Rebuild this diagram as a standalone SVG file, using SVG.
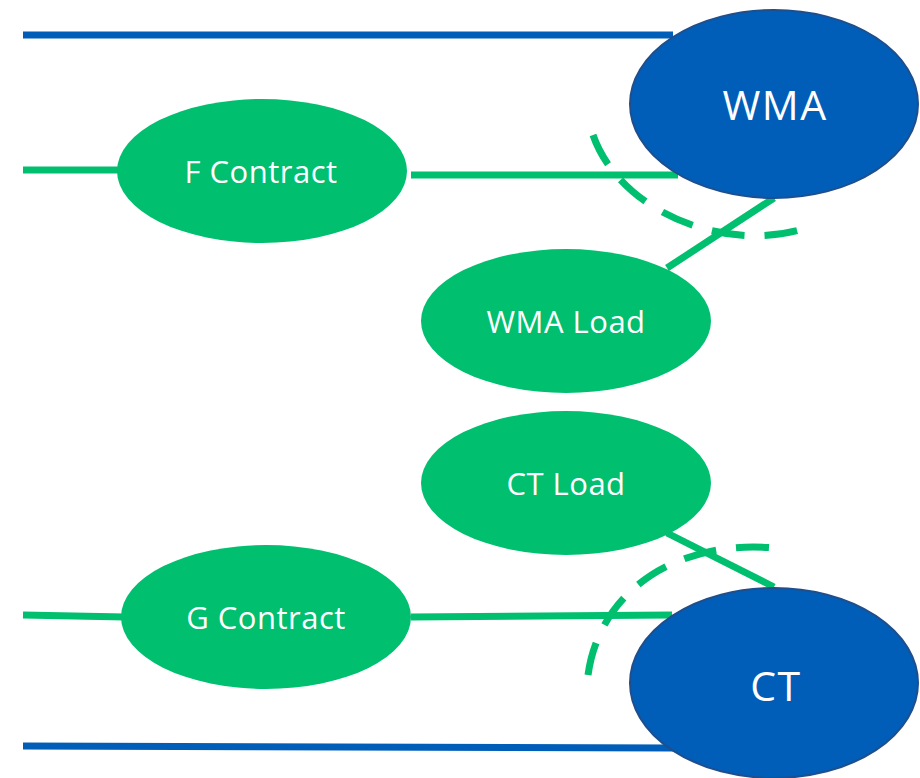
<svg xmlns="http://www.w3.org/2000/svg" width="920" height="778" viewBox="0 0 920 778">
<style>
.g{fill:#00BF6F}
.b{fill:#005EB8;stroke:#1F4E8C;stroke-width:2}
.ln{stroke:#00BF6F;stroke-width:7;fill:none}
.bl{stroke:#005EB8;stroke-width:7;fill:none}
.ds{stroke:#00BF6F;stroke-width:7;fill:none;stroke-dasharray:33 20}
text{fill:#fff;font-family:"Open Sans","Noto Sans",sans-serif;font-weight:400;text-anchor:middle;dominant-baseline:central}
.t1{font-size:31px;letter-spacing:0.5px}
.t2{font-size:41px;letter-spacing:1.5px}
</style>
<rect width="920" height="778" fill="#fff"/>
<g id="connectors">
<line class="bl" x1="23" y1="35" x2="673" y2="35"/>
<line class="bl" x1="23" y1="746" x2="673" y2="748"/>
<line class="ln" x1="23" y1="170" x2="120" y2="170"/>
<line class="ln" x1="411" y1="175" x2="678" y2="175"/>
<line class="ln" x1="667" y1="268" x2="774" y2="198"/>
<line class="ln" x1="667" y1="533" x2="774" y2="587"/>
<line class="ln" x1="23" y1="615" x2="125" y2="617"/>
<line class="ln" x1="411" y1="617" x2="672" y2="615"/>
<path class="ds" d="M593,135 C620,212 725,254 806,228"/>
<path class="ds" d="M588,675 C600,588 682,536 784,549"/>
</g>
<g id="wma"><ellipse class="b" cx="774" cy="104" rx="144" ry="94"/><text class="t2" x="775" y="104">WMA</text></g>
<g id="ct"><ellipse class="b" cx="774" cy="683" rx="144" ry="95"/><text class="t2" x="776" y="685">CT</text></g>
<g id="fcontract"><ellipse class="g" cx="262" cy="171" rx="145" ry="72"/><text class="t1" x="261" y="171">F Contract</text></g>
<g id="wmaload"><ellipse class="g" cx="566" cy="321" rx="145" ry="72"/><text class="t1" x="566" y="321">WMA Load</text></g>
<g id="ctload"><ellipse class="g" cx="566" cy="483" rx="145" ry="72"/><text class="t1" x="566" y="483">CT Load</text></g>
<g id="gcontract"><ellipse class="g" cx="266" cy="617" rx="145" ry="72"/><text class="t1" x="266" y="617">G Contract</text></g>
</svg>
